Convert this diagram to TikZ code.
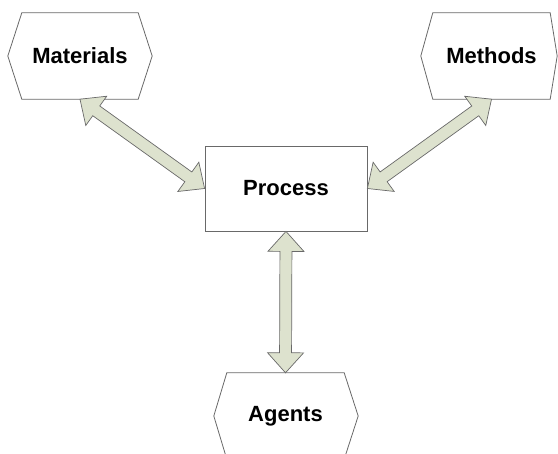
\documentclass[tikz,border=0pt]{standalone}
\usepackage{fontspec}
\setmainfont{Liberation Sans}
\usetikzlibrary{calc}
\definecolor{arrfill}{RGB}{221,226,206}
\definecolor{lineg}{RGB}{105,105,105}
\tikzset{
  fatarrow/.style={draw=lineg, fill=arrfill, line width=0.7pt, line join=miter},
  boxtext/.style={inner sep=0pt, font=\fontsize{22}{26}\selectfont\bfseries},
  hexbox/.style={boxtext},
  procbox/.style={boxtext, draw=lineg, fill=white, line width=0.8pt}
}
\newcommand\fatarrow[2]{%
  \path ($(#1)!20pt!(#2)$) coordinate (fa1) ($(#2)!20pt!(#1)$) coordinate (fa2);
  \draw[fatarrow] (#1) -- ($(fa1)!18pt!90:(#2)$) -- ($(fa1)!6pt!90:(#2)$)
    -- ($(fa2)!6pt!-90:(#1)$) -- ($(fa2)!18pt!-90:(#1)$) -- (#2)
    -- ($(fa2)!18pt!90:(#1)$) -- ($(fa2)!6pt!90:(#1)$)
    -- ($(fa1)!6pt!-90:(#2)$) -- ($(fa1)!18pt!-90:(#2)$) -- cycle;}
\newcommand\hexoutline[3]{%
  \draw[draw=lineg, fill=white, line width=0.8pt]
    (#1.north west) -- (#1.north east) -- ($(#1.east)+(#3,0)$) -- (#1.south east)
    -- (#1.south west) -- ($(#1.west)-(#2,0)$) -- cycle;}
\begin{document}
\begin{tikzpicture}[x=1pt,y=-1pt]
\useasboundingbox (0,0) rectangle (558,454);
% invisible frames for the hexagons
\path (80,56) node[hexbox, minimum width=116pt, minimum height=86pt] (mat) {};
\path (491.5,56) node[hexbox, minimum width=117pt, minimum height=86pt] (met) {};
\path (285.5,416) node[hexbox, minimum width=117pt, minimum height=86pt] (agt) {};
\hexoutline{mat}{14}{14}
\hexoutline{met}{12}{7}
\hexoutline{agt}{13}{14}
\node[boxtext] at (mat) {Materials};
\node[boxtext] at (met) {Methods};
\node[boxtext] at (agt) {Agents};
\node[procbox, minimum width=162pt, minimum height=85pt] (proc) at (286,188.5) {Process};
\fatarrow{mat.south}{proc.west}
\fatarrow{met.south}{proc.east}
\fatarrow{proc.south}{agt.north}
\end{tikzpicture}
\end{document}
